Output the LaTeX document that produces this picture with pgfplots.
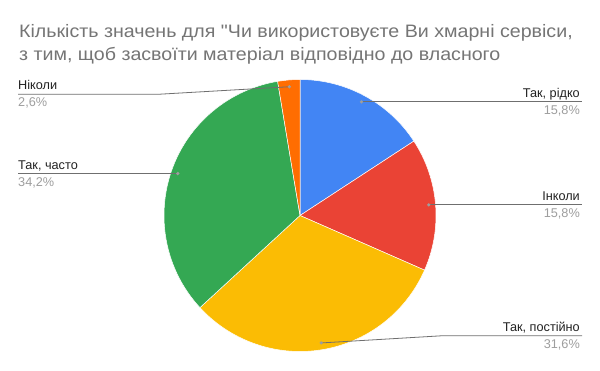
\documentclass[border=0pt]{standalone}
\usepackage{pgfplots}
\pgfplotsset{compat=1.18}
\usetikzlibrary{calc}
\usepackage{fontspec}
\setmainfont{Liberation Sans}
\newfontfamily\titlefont[FakeStretch=1.09]{Liberation Sans}
\definecolor{cBlue}{HTML}{4285F4}
\definecolor{cRed}{HTML}{EA4335}
\definecolor{cYellow}{HTML}{FBBC04}
\definecolor{cGreen}{HTML}{34A853}
\definecolor{cOrange}{HTML}{FF6D01}
\definecolor{titleGrey}{HTML}{757575}
\definecolor{labText}{HTML}{222222}
\definecolor{pctGrey}{HTML}{9E9E9E}
\definecolor{lineGrey}{HTML}{6F6F6F}
% counts per answer (total 38)
\def\Ntot{38}
\newcommand\sector[4]{% cumstart, cumend, colour, name
  \pgfmathsetmacro\sa{90-360*#1/\Ntot}%
  \pgfmathsetmacro\sb{90-360*#2/\Ntot}%
  \pgfmathsetmacro\sm{(\sa+\sb)/2}%
  \edef\tmp{\noexpand\fill[#3, draw=white, line width=0.5pt] (axis cs:0,0) -- (axis cs:{cos(\sa)},{sin(\sa)}) arc[start angle=\sa, end angle=\sb, radius=136bp] -- cycle;
  \noexpand\coordinate (#4) at (axis cs:{0.95*cos(\sm)},{0.95*sin(\sm)});}%
  \tmp}
\begin{document}
\begin{tikzpicture}
\path[use as bounding box] (0,0) rectangle (600bp,371bp);
\fill[white] (0,0) rectangle (600bp,371bp);
\begin{axis}[at={(300bp,155.5bp)}, anchor=center, scale only axis,
  width=272bp, height=272bp, xmin=-1, xmax=1, ymin=-1, ymax=1, hide axis, clip=false]
% data: Так, рідко 6; Інколи 6; Так, постійно 12; Так, часто 13; Ніколи 1
\sector{0}{6}{cBlue}{d1}
\sector{6}{12}{cRed}{d2}
\sector{12}{24}{cYellow}{d3}
\sector{24}{37}{cGreen}{d4}
\sector{37}{38}{cOrange}{d5}
\end{axis}
% title
\node[anchor=base west, text=titleGrey, font=\titlefont\fontsize{18bp}{22bp}\selectfont, inner sep=0] at (19bp,333bp) {Кількість значень для \symbol{34}Чи використовуєте Ви хмарні сервіси,};
\node[anchor=base west, text=titleGrey, font=\titlefont\fontsize{18bp}{22bp}\selectfont, inner sep=0] at (19bp,310bp) {з тим, щоб засвоїти матеріал відповідно до власного};
% leader lines
\draw[lineGrey, line width=0.8pt] (d1) -- (d1 -| 582bp,0) ;
\draw[lineGrey, line width=0.8pt] (d2) -- (d2 -| 582bp,0) ;
\draw[lineGrey, line width=0.8pt] (d3) -- (443bp,35.3bp) -- (582bp,35.3bp);
\draw[lineGrey, line width=0.8pt] (d4) -- (d4 -| 18bp,0) ;
\draw[lineGrey, line width=0.8pt] (d5) -- (158bp,276.7bp) -- (18bp,276.7bp);
\foreach \d in {d1,d2,d3,d4,d5} \fill[pctGrey] (\d) circle (1.8bp);
% labels
\tikzset{lab/.style={inner sep=0, text=labText, font=\fontsize{12.7bp}{15bp}\selectfont},
         pct/.style={inner sep=0, text=pctGrey, font=\fontsize{12.7bp}{15bp}\selectfont}}
\node[lab, anchor=base east] at ($(d1 -| 580bp,0)+(0,4bp)$) {Так, рідко};
\node[pct, anchor=base east] at ($(d1 -| 580bp,0)+(0,-12.7bp)$) {15,8\%};
\node[lab, anchor=base east] at ($(d2 -| 580bp,0)+(0,4bp)$) {Інколи};
\node[pct, anchor=base east] at ($(d2 -| 580bp,0)+(0,-12.7bp)$) {15,8\%};
\node[lab, anchor=base east] at (580bp,39.3bp) {Так, постійно};
\node[pct, anchor=base east] at (580bp,22.3bp) {31,6\%};
\node[lab, anchor=base west] at ($(d4 -| 18bp,0)+(0,4bp)$) {Так, часто};
\node[pct, anchor=base west] at ($(d4 -| 18bp,0)+(0,-12.7bp)$) {34,2\%};
\node[lab, anchor=base west] at (18bp,281bp) {Ніколи};
\node[pct, anchor=base west] at (18bp,264.3bp) {2,6\%};
\end{tikzpicture}
\end{document}
